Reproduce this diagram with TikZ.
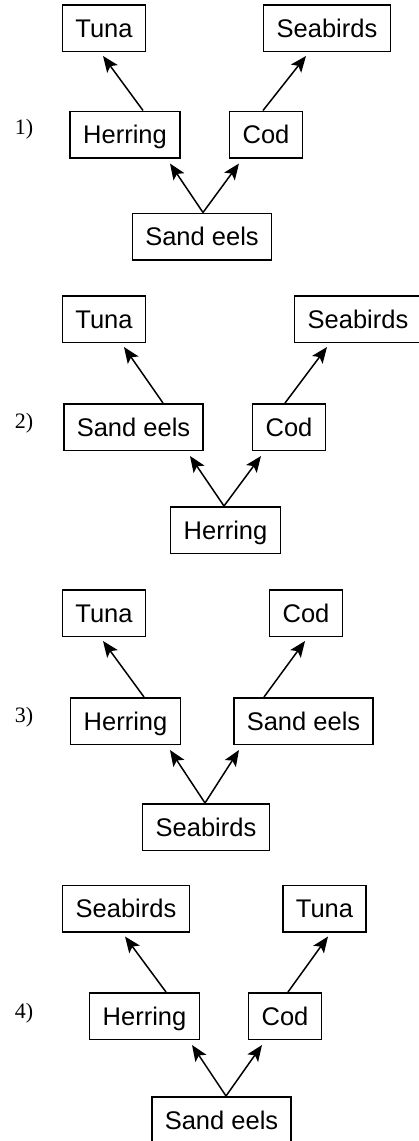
\documentclass[tikz,border=0pt]{standalone}
\usepackage{fontspec}
\setmainfont{Liberation Sans}
\newfontfamily\numfont{Liberation Serif}
\usetikzlibrary{arrows.meta,positioning}

\begin{document}
\begin{tikzpicture}[x=1pt,y=-1pt,>={Stealth[length=16pt,width=13pt,inset=3.5pt]}]
    \tikzstyle{fish}=[rectangle,draw=black,line width=1.5pt,font=\fontsize{25.5}{28}\selectfont,
    inner xsep=13pt,inner ysep=0pt,minimum height=46.5pt,text height=18.3pt,text depth=0pt]

    \tikzstyle{num}=[font=\numfont\fontsize{22}{24}\selectfont,inner sep=0pt]

    \tikzstyle{feeds}=[->,line width=1.5pt]

    \useasboundingbox (0,0) rectangle (419,1141);

    % web 1
    \node[num](n1) at (24,129){1)};
    \node[fish](tuna1) at (104,28){Tuna};
    \node[fish](seabirds1) at (327,28){Seabirds};
    \node[fish](herring1) at (125,134.5){Herring};
    \node[fish](cod1) at (266,134.5){Cod};
    \node[fish](eels1) at (202,236.5){Sand eels};

    \draw[feeds] ([xshift=18pt]herring1.north) -- ([xshift=-1pt,yshift=-4pt]tuna1.south);
    \draw[feeds] ([xshift=-3pt]cod1.north) -- ([xshift=-21pt,yshift=-4pt]seabirds1.south);
    \draw[feeds] ([xshift=1pt]eels1.north) -- ([xshift=45pt,yshift=-5pt]herring1.south);
    \draw[feeds] ([xshift=1pt]eels1.north) -- ([xshift=-27pt,yshift=-5pt]cod1.south);

    % web 2
    \node[num](n2) at (24,423){2)};
    \node[fish](tuna2) at (104,319){Tuna};
    \node[fish](seabirds2) at (358,319){Seabirds};
    \node[fish](eels2) at (133.5,427){Sand eels};
    \node[fish](cod2) at (289,427){Cod};
    \node[fish](herring2) at (225.5,530){Herring};

    \draw[feeds] ([xshift=29.5pt]eels2.north) -- ([xshift=20pt,yshift=-4pt]tuna2.south);
    \draw[feeds] ([xshift=-4pt]cod2.north) -- ([xshift=-31pt,yshift=-4pt]seabirds2.south);
    \draw[feeds] ([xshift=-1.5pt]herring2.north) -- ([xshift=56.5pt,yshift=-5pt]eels2.south);
    \draw[feeds] ([xshift=-1.5pt]herring2.north) -- ([xshift=-28pt,yshift=-5pt]cod2.south);

    % web 3
    \node[num](n3) at (24,717){3)};
    \node[fish](tuna3) at (104,613){Tuna};
    \node[fish](cod3) at (306,613){Cod};
    \node[fish](herring3) at (125.5,721){Herring};
    \node[fish](eels3) at (303.5,721){Sand eels};
    \node[fish](seabirds3) at (206,827){Seabirds};

    \draw[feeds] ([xshift=18.5pt]herring3.north) -- ([xshift=-1pt,yshift=-4pt]tuna3.south);
    \draw[feeds] ([xshift=-39.5pt]eels3.north) -- ([xshift=-1pt,yshift=-4pt]cod3.south);
    \draw[feeds] ([xshift=-1pt]seabirds3.north) -- ([xshift=44.5pt,yshift=-5pt]herring3.south);
    \draw[feeds] ([xshift=-1pt]seabirds3.north) -- ([xshift=-64.5pt,yshift=-5pt]eels3.south);

    % web 4
    \node[num](n4) at (24,1013){4)};
    \node[fish](seabirds4) at (126,908.5){Seabirds};
    \node[fish](tuna4) at (324.5,908.5){Tuna};
    \node[fish](herring4) at (144.5,1016){Herring};
    \node[fish](cod4) at (285,1016){Cod};
    \node[fish](eels4) at (221.5,1120){Sand eels};

    \draw[feeds] ([xshift=21.5pt]herring4.north) -- ([xshift=-1pt,yshift=-4pt]seabirds4.south);
    \draw[feeds] ([xshift=3pt]cod4.north) -- ([xshift=3.5pt,yshift=-4pt]tuna4.south);
    \draw[feeds] ([xshift=4.5pt]eels4.north) -- ([xshift=47.5pt,yshift=-5pt]herring4.south);
    \draw[feeds] ([xshift=4.5pt]eels4.north) -- ([xshift=-23pt,yshift=-5pt]cod4.south);
  \end{tikzpicture}
\end{document}
